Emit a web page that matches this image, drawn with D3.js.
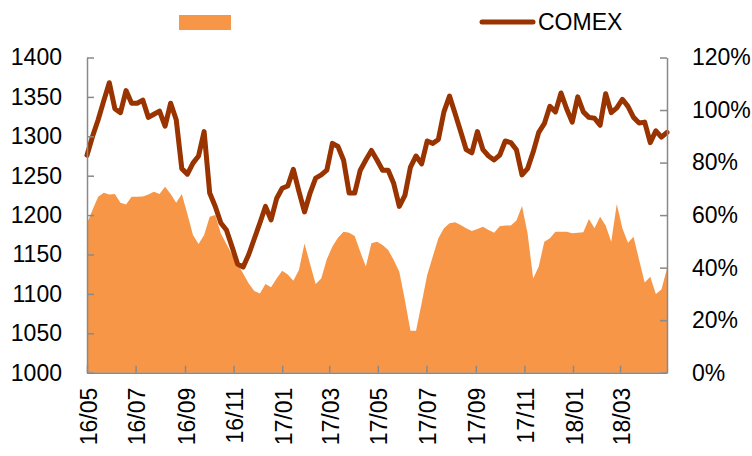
<!DOCTYPE html>
<html>
<head>
<meta charset="utf-8">
<script src="https://cdn.jsdelivr.net/npm/d3@7"></script>
<style>
  body { margin: 0; background: #fff; }
  text { font-family: "Liberation Sans", Arial, sans-serif; fill: #000; }
</style>
</head>
<body>
<div id="chart"></div>
<script>
let width = 752, height = 456;
let margin = {left: 87, right: 85, top: 57.5, bottom: 83.3};

// weekly observations, first and last date
let startDate = new Date(2016, 4, 6), endDate = new Date(2018, 4, 5);

// COMEX gold price (left axis)
let comex = [1276, 1300, 1321, 1345, 1368, 1335, 1330, 1358, 1342, 1342,
    1346, 1324, 1328, 1332, 1313, 1342, 1321, 1259, 1252, 1266,
    1275, 1306, 1228, 1211, 1190, 1181, 1160, 1138, 1134, 1150,
    1170, 1190, 1211, 1194, 1221, 1234, 1237, 1258, 1230, 1204,
    1228, 1247, 1251, 1257, 1291, 1287, 1270, 1228, 1228, 1257,
    1270, 1282, 1270, 1257, 1257, 1240, 1211, 1225, 1261, 1275,
    1265, 1294, 1291, 1296, 1331, 1351, 1329, 1306, 1283, 1279,
    1306, 1283, 1275, 1270, 1276, 1294, 1292, 1283, 1251, 1259,
    1280, 1305, 1316, 1338, 1331, 1355, 1335, 1318, 1350, 1331,
    1324, 1323, 1314, 1354, 1330, 1336, 1347, 1338, 1324, 1317,
    1318, 1292, 1307, 1299, 1305];

// unnamed series, percent (right axis)
let share = [56.9, 62, 67, 68.5, 67.8, 68, 64.7, 64, 67, 67,
    67.1, 67.8, 68.9, 68, 70.8, 68, 64.7, 68, 60.4, 52.4,
    49, 52.4, 59.4, 60, 53, 49, 45, 41.5, 37.8, 34,
    31.1, 30.2, 33.8, 32.5, 35.9, 38.8, 37.4, 35, 39.1, 49.2,
    41.4, 33.8, 35.9, 43.2, 48, 51.4, 53.7, 53.3, 52, 46,
    40.4, 49.3, 49.9, 48.6, 46.7, 42.9, 38.4, 27.7, 16, 16,
    26.4, 37.2, 44.2, 51.2, 55, 56.9, 57.3, 56.2, 55, 53.9,
    54.7, 55.6, 54.3, 53.3, 55.8, 56, 56, 57.9, 63.5, 53.1,
    35.9, 40.4, 49.9, 51.2, 53.7, 53.7, 53.7, 53.1, 53.3, 53.5,
    58.5, 55, 59.4, 56, 49.9, 64.2, 55, 49.5, 51.8, 42.9,
    34.3, 36.5, 30, 31.7, 39.7];

let xTickLabels = ['16/05', '16/07', '16/09', '16/11', '17/01', '17/03',
    '17/05', '17/07', '17/09', '17/11', '18/01', '18/03'];
let leftTicks = [1000, 1050, 1100, 1150, 1200, 1250, 1300, 1350, 1400];
let rightTicks = [0, 20, 40, 60, 80, 100, 120];

let dates = d3.timeFriday.every(1).range(startDate, endDate);
let data = dates.map((d, i) => ({date: d, comex: comex[i], share: share[i]}));

let svg = d3.select('#chart')
    .append('svg')
    .attr('width', width)
    .attr('height', height);

let x = d3.scaleTime()
    .domain(d3.extent(dates))
    .range([margin.left, width - margin.right]);
let yLeft = d3.scaleLinear()
    .domain([1000, 1400])
    .range([height - margin.bottom, margin.top]);
let yRight = d3.scaleLinear()
    .domain([0, 120])
    .range([height - margin.bottom, margin.top]);

let orange = '#f79646', brown = '#993300', grey = '#898989';

// area
svg.append('path')
    .datum(data)
    .attr('fill', orange)
    .attr('d', d3.area()
        .x(d => x(d.date))
        .y0(yRight(0))
        .y1(d => yRight(d.share)));

// line
svg.append('path')
    .datum(data)
    .attr('fill', 'none')
    .attr('stroke', brown)
    .attr('stroke-width', 5)
    .attr('stroke-linejoin', 'round')
    .attr('stroke-linecap', 'round')
    .attr('d', d3.line()
        .x(d => x(d.date))
        .y(d => yLeft(d.comex)));

// axes
let parseTick = d3.timeParse('%y/%m');
let tickDates = xTickLabels.map(s => d3.timeDay.offset(parseTick(s), 5));

let xAxis = svg.append('g')
    .attr('transform', `translate(0,${height - margin.bottom})`)
    .call(d3.axisBottom(x)
        .tickValues(tickDates)
        .tickFormat((d, i) => xTickLabels[i])
        .tickSizeInner(-7)
        .tickSizeOuter(0));
xAxis.selectAll('text')
    .attr('transform', 'rotate(-90)')
    .attr('text-anchor', 'end')
    .attr('x', -15)
    .attr('y', 0)
    .attr('dy', '0.4em');

let leftAxis = svg.append('g')
    .attr('transform', `translate(${margin.left},0)`)
    .call(d3.axisLeft(yLeft)
        .tickValues(leftTicks)
        .tickFormat(d3.format('d'))
        .tickSizeInner(-7)
        .tickSizeOuter(0));
leftAxis.selectAll('text').attr('x', -25);

let rightAxis = svg.append('g')
    .attr('transform', `translate(${width - margin.right},0)`)
    .call(d3.axisRight(yRight)
        .tickValues(rightTicks)
        .tickFormat(d => d + '%')
        .tickSizeInner(-7)
        .tickSizeOuter(0));
rightAxis.selectAll('text').attr('x', 25);

svg.selectAll('.domain, .tick line')
    .attr('stroke', grey)
    .attr('stroke-width', 1.5);
svg.selectAll('.tick text')
    .attr('font-size', 23)
    .attr('font-family', '"Liberation Sans", Arial, sans-serif')
    .attr('fill', '#000');

// legend
let legend = svg.append('g');
legend.append('rect')
    .attr('x', 179)
    .attr('y', 15)
    .attr('width', 52)
    .attr('height', 15)
    .attr('fill', orange);
legend.append('line')
    .attr('x1', 482)
    .attr('x2', 533)
    .attr('y1', 22)
    .attr('y2', 22)
    .attr('stroke', brown)
    .attr('stroke-width', 5)
    .attr('stroke-linecap', 'round');
legend.append('text')
    .attr('x', 538)
    .attr('y', 22)
    .attr('dy', '0.35em')
    .attr('font-size', 23)
    .text('COMEX');
</script>
</body>
</html>
